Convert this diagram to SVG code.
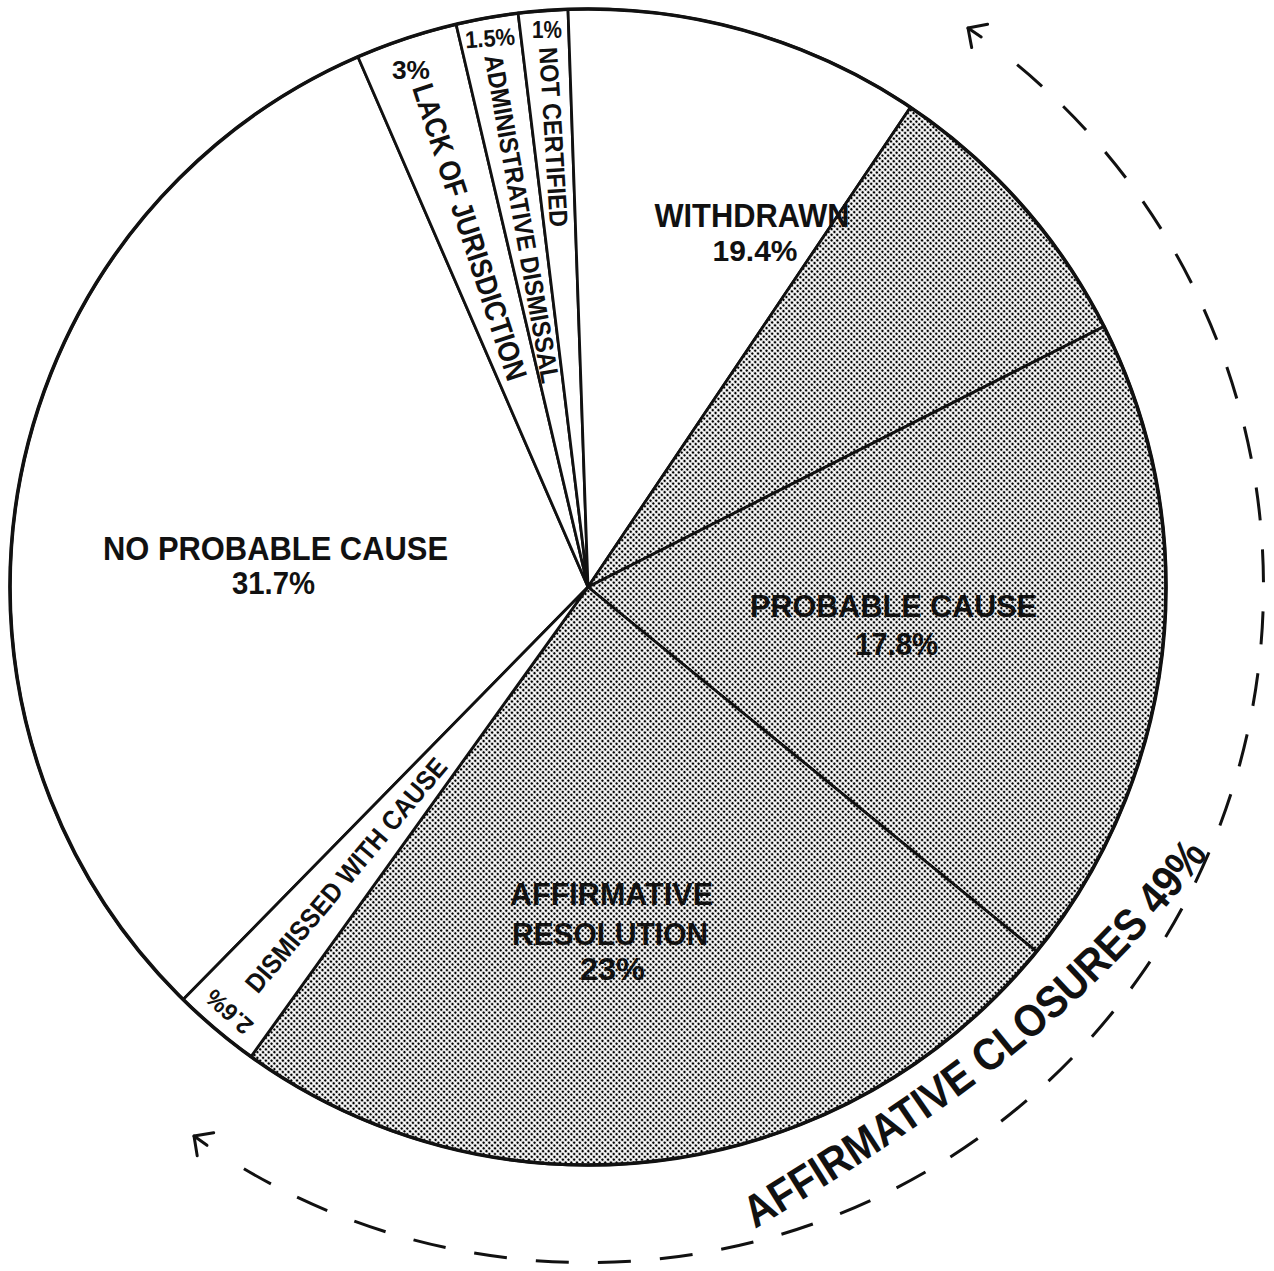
<svg xmlns="http://www.w3.org/2000/svg" xmlns:xlink="http://www.w3.org/1999/xlink" width="1274" height="1271" viewBox="0 0 1274 1271">
<style>
.bg{fill:#ffffff}
.w{fill:#ffffff;stroke:#111;stroke-width:2.8;stroke-linejoin:round}
.s{fill:url(#dots);stroke:#111;stroke-width:2.8;stroke-linejoin:round}
.rim{fill:none;stroke:#111;stroke-width:3.6}
.lbl{font-family:"Liberation Sans",Arial,Helvetica,sans-serif;font-weight:bold;fill:#111;text-anchor:middle}
.dash{fill:none;stroke:#111;stroke-width:3;stroke-dasharray:33 29.1}
.arr{fill:none;stroke:#111;stroke-width:3;stroke-linecap:round;stroke-linejoin:round}
</style>
<defs>
<pattern id="dots" patternUnits="userSpaceOnUse" width="4" height="4" patternTransform="rotate(45)">
<rect width="4" height="4" fill="#ffffff"/>
<circle cx="2" cy="2" r="1.35" fill="#000"/>
</pattern>
<path id="tp" d="M755 1229 C940 1117 1082 1020 1204 860"/>
</defs>
<rect class="bg" width="1274" height="1271"/>

<g id="slice-no-probable-cause">
<path class="w" d="M588 587 L183.2 999.6 A578 578 0 0 1 357.9 56.8 Z"/>
<text class="lbl" x="275.5" y="560" font-size="34" textLength="345" lengthAdjust="spacingAndGlyphs">NO PROBABLE CAUSE</text>
<text class="lbl" x="273.5" y="594" font-size="32" textLength="83" lengthAdjust="spacingAndGlyphs">31.7%</text>
</g>
<g id="slice-lack-of-jurisdiction">
<path class="w" d="M588 587 L357.9 56.8 A578 578 0 0 1 456.1 24.3 Z"/>
<text class="lbl" x="411" y="79" font-size="26" textLength="38" lengthAdjust="spacingAndGlyphs">3%</text>
<text class="lbl" transform="translate(470 232) rotate(72)" x="0" y="10.5" font-size="30" textLength="310" lengthAdjust="spacingAndGlyphs">LACK OF JURISDICTION</text>
</g>
<g id="slice-administrative-dismissal">
<path class="w" d="M588 587 L456.1 24.3 A578 578 0 0 1 518.1 13.2 Z"/>
<text class="lbl" transform="translate(490 38) rotate(-4)" x="0" y="8.5" font-size="24" textLength="50" lengthAdjust="spacingAndGlyphs">1.5%</text>
<text class="lbl" transform="translate(522 219) rotate(80)" x="0" y="9" font-size="26" textLength="333" lengthAdjust="spacingAndGlyphs">ADMINISTRATIVE DISMISSAL</text>
</g>
<g id="slice-not-certified">
<path class="w" d="M588 587 L518.1 13.2 A578 578 0 0 1 568 9.3 Z"/>
<text class="lbl" x="547" y="38" font-size="23" textLength="30" lengthAdjust="spacingAndGlyphs">1%</text>
<text class="lbl" transform="translate(553.5 137) rotate(86.5)" x="0" y="9" font-size="26" textLength="180" lengthAdjust="spacingAndGlyphs">NOT CERTIFIED</text>
</g>
<g id="slice-withdrawn">
<path class="w" d="M588 587 L568 9.3 A578 578 0 0 1 910.5 107.3 Z"/>
<path class="s" d="M588 587 L910.5 107.3 A578 578 0 0 1 1104 326.5 Z"/>
<text class="lbl" x="752" y="227" font-size="33" textLength="195" lengthAdjust="spacingAndGlyphs">WITHDRAWN</text>
<text class="lbl" x="755" y="261" font-size="30" textLength="85" lengthAdjust="spacingAndGlyphs">19.4%</text>
</g>
<g id="slice-probable-cause">
<path class="s" d="M588 587 L1104 326.5 A578 578 0 0 1 1036.5 951.5 Z"/>
<text class="lbl" x="893.5" y="617" font-size="32" textLength="287" lengthAdjust="spacingAndGlyphs">PROBABLE CAUSE</text>
<text class="lbl" x="896.5" y="655" font-size="32" textLength="83" lengthAdjust="spacingAndGlyphs">17.8%</text>
</g>
<g id="slice-affirmative-resolution">
<path class="s" d="M588 587 L1036.5 951.5 A578 578 0 0 1 251 1056.6 Z"/>
<text class="lbl" x="611.5" y="905" font-size="32" textLength="203" lengthAdjust="spacingAndGlyphs">AFFIRMATIVE</text>
<text class="lbl" x="610" y="945" font-size="32" textLength="196" lengthAdjust="spacingAndGlyphs">RESOLUTION</text>
<text class="lbl" x="612.5" y="980" font-size="32" textLength="65" lengthAdjust="spacingAndGlyphs">23%</text>
</g>
<g id="slice-dismissed-with-cause">
<path class="w" d="M588 587 L251 1056.6 A578 578 0 0 1 183.2 999.6 Z"/>
<text class="lbl" transform="translate(346 875) rotate(-50)" x="0" y="9.5" font-size="27" textLength="297" lengthAdjust="spacingAndGlyphs">DISMISSED WITH CAUSE</text>
<text class="lbl" transform="translate(229 1012) rotate(-138)" x="0" y="8.5" font-size="24" textLength="54" lengthAdjust="spacingAndGlyphs">2.6%</text>
</g>
<circle class="rim" cx="588" cy="587" r="578"/>

<g id="connectors">
<path class="dash" d="M1017.1 64.7 A676 676 0 0 1 243.9 1168.8"/>
<polyline class="arr" points="987.6,24.3 968,28 971.7,47.6"/>
<line class="arr" x1="968" y1="28" x2="981.2" y2="37"/>
<polyline class="arr" points="213.7,1132.8 194,1136 197.2,1155.7"/>
<line class="arr" x1="194" y1="1136" x2="207" y2="1145.3"/>
</g>
<g id="label-affirmative-closures">
<text class="lbl" font-size="45" style="text-anchor:start"><textPath href="#tp" xlink:href="#tp" textLength="592" lengthAdjust="spacingAndGlyphs">AFFIRMATIVE CLOSURES 49%</textPath></text>
</g>
</svg>
